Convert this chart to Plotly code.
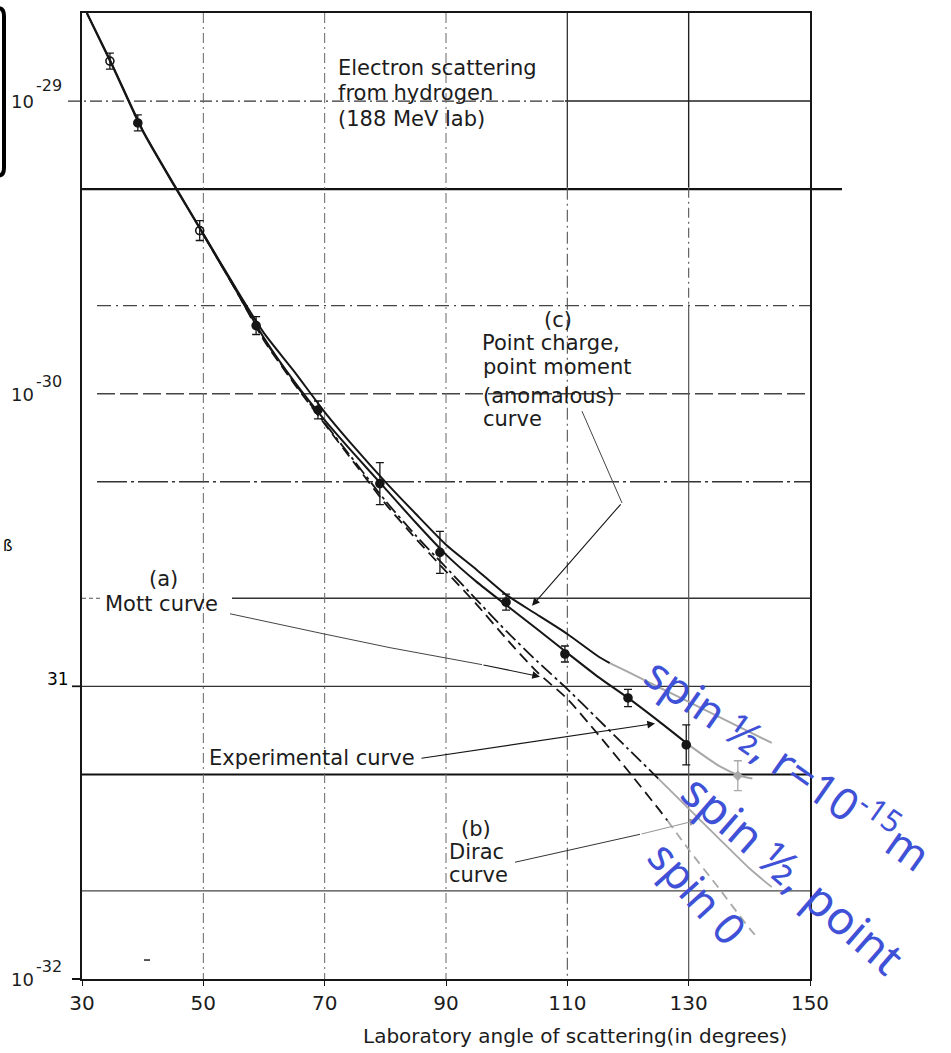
import math
import plotly.graph_objects as go

# ---------------- data ----------------
x_ticks = [30, 50, 70, 90, 110, 130, 150]

# measured cross sections (lab angle in degrees, cm^2/sr)
angles_pts = [34.6, 39.2, 49.4, 58.7, 68.9, 79.1, 89.0, 99.9, 109.6, 120.0, 129.6]
sigma_pts = [1.37e-29, 8.42e-30, 3.61e-30, 1.71e-30, 8.80e-31, 4.93e-31,
             2.87e-31, 1.94e-31, 1.29e-31, 9.13e-32, 6.31e-32]
err_factor = [1.065, 1.065, 1.081, 1.073, 1.073, 1.18, 1.18, 1.065, 1.065, 1.07, 1.17]
open_point = [True, False, True, False, False, False, False, False, False, False, False]

extra_angle = [138.1]
extra_sigma = [4.95e-32]
extra_err = [1.125]

# experimental curve
exp_angles = [30.8, 35, 40, 45, 50, 55, 60, 65, 70, 75, 80, 85, 90, 95, 100, 105, 110, 115, 120, 125, 130]
exp_sigma = [2.0e-29, 1.32e-29, 7.90e-30, 5.22e-30, 3.50e-30, 2.33e-30, 1.55e-30, 1.10e-30,
             8.13e-31, 6.18e-31, 4.74e-31, 3.63e-31, 2.82e-31, 2.28e-31, 1.89e-31, 1.57e-31,
             1.30e-31, 1.08e-31, 9.13e-32, 7.62e-32, 6.31e-32]
exp_ext_angles = [130, 135, 138.5, 140.5]
exp_ext_sigma = [6.31e-32, 5.35e-32, 4.95e-32, 4.84e-32]

# (c) point charge, point moment (anomalous)
c_angles = [30.8, 35, 40, 45, 50, 55, 60, 65, 70, 75, 80, 85, 90, 95, 100, 105, 110, 115, 117]
c_sigma = [2.0e-29, 1.33e-29, 7.96e-30, 5.26e-30, 3.52e-30, 2.36e-30, 1.61e-30, 1.19e-30,
           8.66e-31, 6.53e-31, 5.00e-31, 3.89e-31, 3.05e-31, 2.51e-31, 2.05e-31, 1.76e-31,
           1.51e-31, 1.27e-31, 1.20e-31]
c_ext_angles = [117, 120, 125, 130, 135, 140, 143.7]
c_ext_sigma = [1.20e-31, 1.12e-31, 9.95e-32, 8.85e-32, 7.86e-32, 6.99e-32, 6.41e-32]

# (b) Dirac curve
dirac_angles = [50, 55, 60, 65, 70, 75, 80, 85, 90, 95, 100, 105, 110, 115, 120, 125]
dirac_sigma = [3.50e-30, 2.33e-30, 1.535e-30, 1.09e-30, 7.94e-31, 5.85e-31, 4.31e-31, 3.28e-31,
               2.55e-31, 1.98e-31, 1.54e-31, 1.22e-31, 9.79e-32, 7.74e-32, 6.12e-32, 4.84e-32]
dirac_ext_angles = [125, 130, 135, 140, 143.7]
dirac_ext_sigma = [4.84e-32, 3.82e-32, 3.02e-32, 2.39e-32, 2.06e-32]

# (a) Mott curve
mott_angles = [50, 55, 60, 65, 70, 75, 80, 85, 90, 95, 100, 105, 110, 115, 120, 125, 126.5]
mott_sigma = [3.50e-30, 2.33e-30, 1.52e-30, 1.08e-30, 7.88e-31, 5.76e-31, 4.21e-31, 3.20e-31,
              2.47e-31, 1.91e-31, 1.45e-31, 1.12e-31, 9.06e-32, 6.88e-32, 5.15e-32, 3.82e-32, 3.48e-32]
mott_ext_angles = [126.5, 130, 135, 140, 141]
mott_ext_sigma = [3.48e-32, 2.77e-32, 2.04e-32, 1.49e-32, 1.41e-32]

# horizontal grid values
grid_values = [1e-29, 5e-30, 2e-30, 1e-30, 5e-31, 2e-31, 1e-31, 5e-32, 2e-32]

# ---------------- layout geometry ----------------
W, H = 951, 1053
L, R, T, B = 82, 810, 11, 979
X_RANGE = [30, 150]
Y_RANGE = [-32, math.log10(2e-29)]

BLACK = '#161616'
GRAY = '#a8a8a8'
BLUE = '#3f51d6'
TXT = '#1c1c1c'
FONT = 'DejaVu Sans'


def xp(px):
    return (px - L) / (R - L)


def yp(py):
    return (B - py) / (B - T)


def xd(a):
    return (a - X_RANGE[0]) / (X_RANGE[1] - X_RANGE[0])


def yd(v):
    return (math.log10(v) - Y_RANGE[0]) / (Y_RANGE[1] - Y_RANGE[0])


fig = go.Figure()


def curve(xs, ys, color, dash='solid', width=2.0):
    fig.add_trace(go.Scatter(
        x=xs, y=ys, mode='lines',
        line=dict(color=color, dash=dash, width=width, shape='spline', smoothing=0.6),
        hoverinfo='skip', showlegend=False))


curve(c_angles, c_sigma, BLACK)
curve(c_ext_angles, c_ext_sigma, GRAY)
curve(exp_angles, exp_sigma, BLACK)
curve(exp_ext_angles, exp_ext_sigma, GRAY)
curve(dirac_angles, dirac_sigma, BLACK, dash='14px,4px,3px,4px', width=1.8)
curve(dirac_ext_angles, dirac_ext_sigma, GRAY, width=1.8)
curve(mott_angles, mott_sigma, BLACK, dash='11px,6px', width=1.8)
curve(mott_ext_angles, mott_ext_sigma, GRAY, dash='9px,6px', width=1.8)

# measured points with error bars
up = [v * (f - 1) for v, f in zip(sigma_pts, err_factor)]
dn = [v * (1 - 1 / f) for v, f in zip(sigma_pts, err_factor)]
symbols = ['circle-open' if o else 'circle' for o in open_point]
fig.add_trace(go.Scatter(
    x=angles_pts, y=sigma_pts, mode='markers',
    marker=dict(symbol=symbols, size=8, color=BLACK, line=dict(color=BLACK, width=1.6)),
    error_y=dict(type='data', array=up, arrayminus=dn, symmetric=False,
                 color=BLACK, thickness=1.3, width=4),
    hoverinfo='skip', showlegend=False))

up2 = [v * (f - 1) for v, f in zip(extra_sigma, extra_err)]
dn2 = [v * (1 - 1 / f) for v, f in zip(extra_sigma, extra_err)]
fig.add_trace(go.Scatter(
    x=extra_angle, y=extra_sigma, mode='markers',
    marker=dict(symbol='diamond', size=8, color=GRAY),
    error_y=dict(type='data', array=up2, arrayminus=dn2, symmetric=False,
                 color=GRAY, thickness=1.3, width=4),
    hoverinfo='skip', showlegend=False))

# ---------------- grid (shapes) ----------------
def hline(v, x0px, x1px, color, width, dash):
    fig.add_shape(type='line', xref='paper', yref='paper',
                  x0=xp(x0px), x1=xp(x1px), y0=yd(v), y1=yd(v),
                  line=dict(color=color, width=width, dash=dash), layer='below')


def vline(a, y0px, y1px, color, width, dash):
    fig.add_shape(type='line', xref='paper', yref='paper',
                  x0=xd(a), x1=xd(a), y0=yp(y0px), y1=yp(y1px),
                  line=dict(color=color, width=width, dash=dash), layer='below')


g = dict(zip(['e29', 'f30', 't30', 'e30', 'f31', 't31', 'e31', 'f32', 't32'], grid_values))
hline(g['e29'], 68, 565, '#333', 1.3, '12px,4px,2px,4px')
hline(g['e29'], 565, 810, '#222', 1.5, 'solid')
hline(g['f30'], 82, 842, '#111', 2.2, 'solid')
hline(g['t30'], 97, 810, '#444', 1.3, '14px,5px,2px,5px')
hline(g['e30'], 97, 810, '#444', 1.3, '18px,5px')
hline(g['f31'], 97, 810, '#333', 1.4, '30px,4px,3px,4px')
hline(g['t31'], 82, 100, '#555', 1.0, '4px,3px')
hline(g['t31'], 232, 810, '#333', 1.4, 'solid')
hline(g['e31'], 72, 810, '#333', 1.4, 'solid')
hline(g['f32'], 82, 810, '#111', 2.0, 'solid')
hline(g['t32'], 82, 810, '#444', 1.2, 'solid')
hline(1e-32, 72, 82, '#111', 2.0, 'solid')
hline(1e-31, 72, 82, '#111', 1.6, 'solid')

for a in (50, 70, 90):
    vline(a, 11, 979, '#666', 1.0, '10px,4px,2px,4px')
vline(110, 11, 186, '#333', 1.3, 'solid')
vline(110, 186, 979, '#555', 1.1, '12px,4px,2px,4px')
vline(130, 11, 186, '#222', 1.4, 'solid')
vline(130, 186, 303, '#555', 1.1, '10px,4px,2px,4px')
vline(130, 303, 979, '#555', 1.2, 'solid')

# ---------------- helpers for text & pointers ----------------
def label(text, x, y, size=21, anchor='left', color=TXT, family=FONT, angle=0):
    fig.add_annotation(text=text, x=xp(x), y=yp(y), xref='paper', yref='paper',
                       xanchor=anchor, yanchor='middle', showarrow=False,
                       font=dict(family=family, size=size, color=color),
                       textangle=angle)


def polyline(pts, color, width=1.0, dash='solid'):
    d = 'M ' + ' L '.join(f'{xp(x):.5f},{yp(y):.5f}' for x, y in pts)
    fig.add_shape(type='path', path=d, xref='paper', yref='paper',
                  line=dict(color=color, width=width, dash=dash), layer='above')


def arrow(x0, y0, x1, y1, color=BLACK):
    fig.add_annotation(x=xp(x1), y=yp(y1), xref='paper', yref='paper',
                       ax=x0 - x1, ay=y0 - y1, axref='pixel', ayref='pixel',
                       text='', showarrow=True, arrowhead=2, arrowsize=1.4,
                       arrowwidth=1.1, arrowcolor=color, standoff=0)


# texts
label('Electron scattering', 336, 66)
label('from hydrogen', 336, 91)
label('(188 MeV lab)', 336, 117)
label('(c)', 558, 319, anchor='center')
label('Point charge,', 480, 342)
label('point moment', 481, 366)
label('(anomalous)', 481, 395)
label('curve', 481, 418)
label('(a)', 163, 578, anchor='center')
label('Mott curve', 103, 603)
label('Experimental curve', 207, 758)
label('(b)', 476, 829, anchor='center')
label('Dirac', 447, 852)
label('curve', 447, 875)
label('Laboratory angle of scattering(in degrees)', 575, 1036, size=20, anchor='center')

# y tick labels
label('10', 22, 100, size=18, anchor='center')
label('-29', 34, 84, size=16)
label('10', 22, 393, size=18, anchor='center')
label('-30', 34, 380, size=16)
label('31', 58, 678, size=17, anchor='center', color='#000')
label('10', 22, 979, size=18, anchor='center')
label('-32', 34, 966, size=16)
label('ß', 7, 545, size=15, anchor='center', color='#000')

# pointers
polyline([(582, 410), (622, 502)], '#444', 1.0)
arrow(622, 502, 532, 605)
polyline([(230, 613), (323, 633), (390, 647), (482, 664)], '#444', 1.0)
arrow(482, 664, 540, 676)
arrow(420, 758, 655, 723)
polyline([(515, 862), (640, 834)], '#333', 1.0)
arrow(640, 834, 697, 820, color='#999')
polyline([(144, 960), (150, 960)], '#222', 1.5)

# black bracket at the left edge
path = (f'M {xp(-6):.5f},{yp(6):.5f} L {xp(-2):.5f},{yp(6):.5f} '
        f'Q {xp(4):.5f},{yp(6):.5f} {xp(4):.5f},{yp(14):.5f} '
        f'L {xp(4):.5f},{yp(166):.5f} '
        f'Q {xp(4):.5f},{yp(174):.5f} {xp(-2):.5f},{yp(174):.5f} '
        f'L {xp(-6):.5f},{yp(174):.5f}')
fig.add_shape(type='path', path=path, xref='paper', yref='paper',
              line=dict(color='#000', width=4), layer='above')

# blue hand annotations
label('spin ½, r=10<sup>-15</sup>m', 789, 761, size=44, anchor='center',
      color=BLUE, family='Noto Sans', angle=35)
label('spin ½, point', 793, 873, size=46, anchor='center',
      color=BLUE, family='Noto Sans', angle=41)
label('spin 0', 698, 892, size=43, anchor='center',
      color=BLUE, family='Noto Sans', angle=48)

fig.update_layout(
    width=W, height=H,
    margin=dict(l=L, r=W - R, t=T, b=H - B, pad=0),
    paper_bgcolor='white', plot_bgcolor='rgba(0,0,0,0)',
    showlegend=False,
    xaxis=dict(range=X_RANGE, tickvals=x_ticks, ticktext=[str(t) for t in x_ticks],
               showgrid=False, zeroline=False, showline=True, linecolor=BLACK,
               linewidth=2, mirror=True, ticks='outside', ticklen=5, tickcolor=BLACK,
               tickfont=dict(family=FONT, size=20, color=TXT)),
    yaxis=dict(type='log', range=Y_RANGE, showgrid=False, zeroline=False,
               showline=True, linecolor=BLACK, linewidth=2, mirror=True,
               showticklabels=False, ticks=''),
)

fig.write_html('out.html')
